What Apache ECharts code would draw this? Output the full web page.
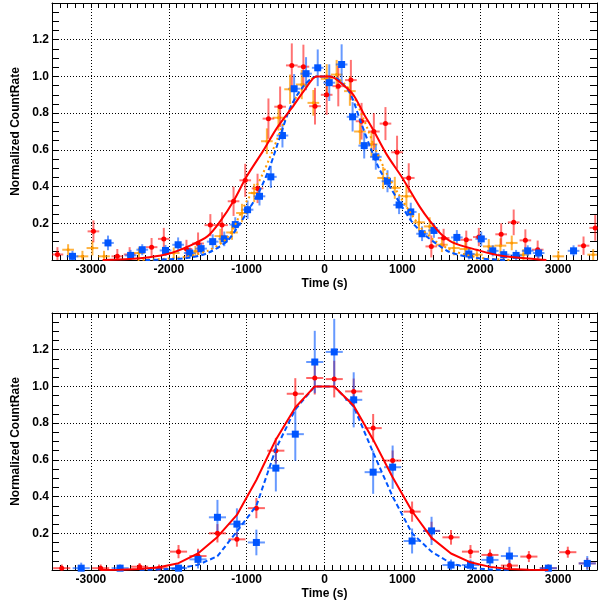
<!DOCTYPE html>
<html>
<head>
<meta charset="utf-8">
<script src="https://cdn.jsdelivr.net/npm/echarts@6/dist/echarts.min.js"></script>
<style>
html,body{margin:0;padding:0;background:#fff;}
#chart{width:602px;height:605px;}
</style>
</head>
<body>
<div id="chart"></div>
<script>
// ---------------- DATA ----------------
// axis ticks
const xTickLabels = [-3000, -2000, -1000, 0, 1000, 2000, 3000];
const yTickLabels = [0.2, 0.4, 0.6, 0.8, 1.0, 1.2];
const xTitle = 'Time (s)';
const yTitle = 'Normalized CountRate';

// bin half-widths (time error)
const topHalfBin = 75;
const bottomHalfBin = 110;

// Top panel points: [time, rate, rateError]
const topRed = [
  [-3430,0.03,0.04],[-2968,0.156,0.06],[-2661,0.02,0.04],[-2503,0.03,0.04],[-2221,0.07,0.05],
  [-2064,0.115,0.06],[-1773,0.06,0.05],[-1624,0.09,0.06],[-1466,0.19,0.06],[-1316,0.19,0.07],
  [-1168,0.32,0.08],[-1018,0.434,0.09],[-860,0.39,0.08],[-720,0.77,0.11],[-570,0.835,0.11],
  [-420,1.06,0.12],[-271,1.053,0.12],[-122,0.838,0.1],[28,0.90,0.11],[177,0.947,0.11],
  [339,0.98,0.11],[476,0.756,0.1],[634,0.70,0.1],[783,0.743,0.09],[932,0.587,0.09],
  [1082,0.447,0.08],[1372,0.074,0.06],[1530,0.12,0.05],[1821,0.11,0.05],[1982,0.125,0.05],
  [2269,0.14,0.06],[2430,0.205,0.07],[2580,0.107,0.06],[2738,0.056,0.05],[3327,0.078,0.05],
  [3477,0.175,0.07]
];
const topOrange = [
  [-3293,0.056,0.03],[-3109,0.02,0.03],[-2981,0.065,0.04],[-2832,0.02,0.03],[-2384,0.038,0.03],
  [-1936,0.038,0.03],[-1658,0.047,0.03],[-1338,0.13,0.04],[-1188,0.15,0.04],[-1060,0.256,0.05],
  [-903,0.365,0.05],[-740,0.647,0.07],[-591,0.775,0.07],[-442,0.93,0.08],[-292,0.956,0.08],
  [-143,0.856,0.07],[28,0.987,0.08],[156,1.01,0.08],[326,0.92,0.08],[455,0.70,0.07],
  [604,0.63,0.07],[753,0.447,0.06],[903,0.393,0.06],[1052,0.347,0.06],[1214,0.205,0.05],
  [1351,0.183,0.05],[1508,0.083,0.04],[1662,0.065,0.04],[1808,0.06,0.04],[1957,0.029,0.03],
  [2110,0.074,0.04],[2260,0.078,0.04],[2405,0.093,0.04],[2554,0.029,0.03],[3003,0.02,0.03],
  [3451,0.029,0.03]
];
const topBlue = [
  [-3237,0.02,0.03],[-2781,0.093,0.04],[-2490,0.025,0.03],[-2341,0.056,0.03],[-2042,0.052,0.03],
  [-1880,0.083,0.04],[-1731,0.038,0.03],[-1585,0.062,0.03],[-1436,0.10,0.04],[-1287,0.115,0.04],
  [-1146,0.193,0.04],[-988,0.274,0.05],[-835,0.347,0.05],[-689,0.453,0.06],[-540,0.678,0.065],
  [-390,0.933,0.08],[-237,1.015,0.09],[-87,1.047,0.1],[61,0.966,0.1],[220,1.065,0.11],
  [361,0.78,0.08],[510,0.623,0.07],[659,0.562,0.07],[809,0.429,0.06],[958,0.30,0.05],
  [1108,0.262,0.05],[1253,0.143,0.04],[1406,0.161,0.04],[1700,0.123,0.04],[1854,0.033,0.03],
  [2013,0.115,0.04],[2161,0.05,0.03],[2302,0.029,0.03],[2461,0.025,0.03],[2610,0.05,0.03],
  [2750,0.038,0.03],[3199,0.05,0.03]
];
// Top panel fitted profiles: [time, rate]
const topRedFit = [
  [-2850,0.0],[-2500,0.005],[-2250,0.015],[-2000,0.034],[-1750,0.074],[-1500,0.13],[-1340,0.21],
  [-1170,0.32],[-1000,0.455],[-780,0.60],[-610,0.72],[-400,0.84],[-250,0.93],[-100,1.0],[70,1.0],
  [250,0.95],[370,0.90],[500,0.80],[625,0.71],[800,0.574],[1000,0.447],[1220,0.292],[1350,0.215],
  [1500,0.14],[1650,0.095],[1950,0.056],[2270,0.023],[2850,0.0]
];
const topBlueFit = [
  [-2300,0.0],[-2000,0.004],[-1750,0.012],[-1500,0.038],[-1250,0.103],[-1124,0.175],[-950,0.29],
  [-826,0.384],[-700,0.51],[-570,0.674],[-440,0.83],[-270,0.947],[-100,1.0],[50,1.0],[156,0.99],
  [326,0.91],[455,0.765],[583,0.62],[711,0.49],[839,0.40],[967,0.31],[1137,0.20],[1308,0.13],
  [1450,0.085],[1600,0.045],[1800,0.02],[2000,0.008],[2330,0.0]
];
const topOrangeFit = [
  [-2400,0.0],[-2000,0.008],[-1750,0.02],[-1500,0.05],[-1250,0.12],[-1000,0.32],[-850,0.42],
  [-700,0.56],[-550,0.72],[-400,0.86],[-250,0.95],[-100,1.0],[50,1.0],[200,0.98],[350,0.91],
  [500,0.77],[650,0.61],[800,0.47],[950,0.36],[1100,0.26],[1250,0.17],[1400,0.11],[1600,0.06],
  [1800,0.03],[2000,0.012],[2400,0.0]
];

// Bottom panel points: [time, rate, rateError]
const bottomRed = [
  [-3375,0.01,0.02],[-2875,0.01,0.02],[-2375,0.018,0.02],[-2125,0.01,0.02],[-1875,0.10,0.036],
  [-1625,0.076,0.04],[-1375,0.20,0.05],[-1125,0.167,0.04],[-875,0.337,0.055],[-625,0.65,0.07],
  [-375,0.96,0.085],[-125,1.046,0.09],[125,1.04,0.1],[375,0.973,0.07],[625,0.773,0.077],
  [875,0.596,0.055],[1125,0.318,0.055],[1375,0.213,0.05],[1625,0.178,0.04],[1875,0.10,0.036],
  [2125,0.082,0.03],[2375,0.024,0.03],[2625,0.073,0.03],[2875,0.01,0.02],[3125,0.097,0.03],
  [3375,0.036,0.03]
];
const bottomBlue = [
  [-3125,0.01,0.03],[-2625,0.01,0.02],[-1875,0.01,0.02],[-1625,0.058,0.05],[-1375,0.287,0.095],
  [-1125,0.25,0.086],[-875,0.15,0.07],[-625,0.555,0.127],[-375,0.74,0.145],[-125,1.133,0.17],
  [125,1.188,0.18],[375,0.927,0.15],[625,0.533,0.118],[875,0.56,0.118],[1125,0.158,0.068],
  [1375,0.213,0.077],[1625,0.027,0.03],[1875,0.027,0.03],[2125,0.055,0.04],[2375,0.076,0.05],
  [2875,0.01,0.02],[3375,0.036,0.04]
];
// Bottom panel fitted profiles
const bottomRedFit = [
  [-2875,0.0005],[-2625,0.002],[-2375,0.005],[-2125,0.015],[-1875,0.037],[-1625,0.09],[-1375,0.18],
  [-1125,0.30],[-875,0.49],[-625,0.71],[-375,0.885],[-125,1.0],[125,1.0],[375,0.895],[625,0.71],
  [875,0.505],[1125,0.32],[1375,0.175],[1625,0.09],[1875,0.042],[2125,0.017],[2375,0.006],
  [2625,0.002],[2875,0.0005]
];
const bottomBlueFit = [
  [-2375,0.001],[-2125,0.003],[-1875,0.009],[-1625,0.028],[-1375,0.075],[-1125,0.21],[-875,0.35],
  [-625,0.66],[-375,0.875],[-125,1.0],[125,1.0],[375,0.89],[625,0.64],[875,0.40],[1125,0.20],
  [1375,0.10],[1625,0.036],[1875,0.01],[2125,0.003],[2375,0.001]
];

// ---------------- STYLE ----------------
const RED = '#ff0000', BLUE = '#0055ff', ORANGE = '#ff9900';
const FONT = 'Liberation Sans';

function withHalf(arr, half) { return arr.map(d => [d[0], d[1], half, d[2]]); }

function errRender(color, width) {
  return function (params, api) {
    const x = api.value(0), y = api.value(1), xe = api.value(2), ye = api.value(3);
    const l = api.coord([x - xe, y]), r = api.coord([x + xe, y]);
    const b = api.coord([x, y - ye]), t = api.coord([x, y + ye]);
    return {
      type: 'group',
      children: [
        {type: 'line', shape: {x1: l[0], y1: l[1], x2: r[0], y2: r[1]}, style: {stroke: color, lineWidth: width}},
        {type: 'line', shape: {x1: b[0], y1: b[1], x2: t[0], y2: t[1]}, style: {stroke: color, lineWidth: width}}
      ]
    };
  };
}

const xMinV = -3500, xMaxV = 3500, yMinV = 0, yMaxV = 1.4;

function xLabelFmt(v) { return xTickLabels.indexOf(Math.round(v)) >= 0 ? String(Math.round(v)) : ''; }
function yLabelFmt(v) {
  const r = Math.round(v * 10) / 10;
  return yTickLabels.some(t => Math.abs(t - v) < 1e-6) ? r.toFixed(1) : '';
}

const grids = [
  {left: 52, top: 3, width: 545, height: 257},
  {left: 52, top: 313, width: 545, height: 257}
];

const xAxes = [], yAxes = [];
grids.forEach((g, gi) => {
  xAxes.push({
    gridIndex: gi, type: 'value', min: xMinV, max: xMaxV, interval: 500, position: 'bottom',
    name: xTitle, nameLocation: 'middle', nameGap: 18,
    nameTextStyle: {fontFamily: FONT, fontWeight: 'bold', fontSize: 12, color: '#000'},
    axisLine: {show: true, onZero: false, lineStyle: {color: '#000', width: 1}},
    axisTick: {show: true, inside: true, length: 5, lineStyle: {color: '#000'}},
    minorTick: {show: true, splitNumber: 5, length: 5, lineStyle: {color: '#000'}},
    axisLabel: {formatter: xLabelFmt, margin: 4, fontFamily: FONT, fontWeight: 'bold', fontSize: 12, color: '#000', showMinLabel: true, showMaxLabel: true, hideOverlap: false},
    splitLine: {show: true, lineStyle: {color: ['rgba(0,0,0,0)', '#000'], type: [1, 2], width: 1}}
  });
  xAxes.push({
    gridIndex: gi, type: 'value', min: xMinV, max: xMaxV, interval: 500, position: 'top',
    axisLine: {show: true, onZero: false, lineStyle: {color: '#000', width: 1}},
    axisTick: {show: true, inside: true, length: 5, lineStyle: {color: '#000'}},
    minorTick: {show: true, splitNumber: 5, length: 5, lineStyle: {color: '#000'}},
    axisLabel: {show: false}, splitLine: {show: false}
  });
  yAxes.push({
    gridIndex: gi, type: 'value', min: yMinV, max: yMaxV, interval: 0.2, position: 'left',
    name: yTitle, nameLocation: 'middle', nameGap: 25, nameRotate: 90,
    nameTextStyle: {fontFamily: FONT, fontWeight: 'bold', fontSize: 12, color: '#000'},
    axisLine: {show: true, onZero: false, lineStyle: {color: '#000', width: 1}},
    axisTick: {show: true, inside: true, length: 7, lineStyle: {color: '#000'}},
    minorTick: {show: true, splitNumber: 4, length: 7, lineStyle: {color: '#000'}},
    axisLabel: {formatter: yLabelFmt, margin: 3, fontFamily: FONT, fontWeight: 'bold', fontSize: 12, color: '#000', showMinLabel: true, showMaxLabel: true},
    splitLine: {show: true, lineStyle: {color: '#000', type: [1, 2], width: 1}}
  });
  yAxes.push({
    gridIndex: gi, type: 'value', min: yMinV, max: yMaxV, interval: 0.2, position: 'right',
    axisLine: {show: true, onZero: false, lineStyle: {color: '#000', width: 1}},
    axisTick: {show: true, inside: true, length: 7, lineStyle: {color: '#000'}},
    minorTick: {show: true, splitNumber: 4, length: 7, lineStyle: {color: '#000'}},
    axisLabel: {show: false}, splitLine: {show: false}
  });
});

function errSeries(gi, data, half, color, z) {
  return {
    type: 'custom', xAxisIndex: gi * 2, yAxisIndex: gi * 2, clip: true, z: z,
    renderItem: errRender(color, 2), encode: {x: 0, y: 1}, data: withHalf(data, half), silent: true
  };
}
function markSeries(gi, data, symbol, size, color, z) {
  return {
    type: 'scatter', xAxisIndex: gi * 2, yAxisIndex: gi * 2, clip: true, z: z,
    symbol: symbol, symbolSize: size, itemStyle: {color: color, opacity: 1},
    data: data.map(d => [d[0], d[1]]), silent: true
  };
}
function fitSeries(gi, data, color, type, smooth, z) {
  return {
    type: 'line', xAxisIndex: gi * 2, yAxisIndex: gi * 2, clip: true, z: z,
    showSymbol: false, symbol: 'none', smooth: smooth,
    lineStyle: {color: color, width: 2, type: type}, data: data, silent: true
  };
}

const series = [
  errSeries(0, topOrange, topHalfBin, 'rgba(255,153,0,0.75)', 2),
  errSeries(0, topRed, topHalfBin, 'rgba(255,0,0,0.55)', 2),
  errSeries(0, topBlue, topHalfBin, 'rgba(0,85,255,0.6)', 2),
  markSeries(0, topOrange, 'circle', 3, ORANGE, 3),
  markSeries(0, topRed, 'circle', 5, RED, 3),
  markSeries(0, topBlue, 'rect', 7, BLUE, 3),
  fitSeries(0, topOrangeFit, ORANGE, [2, 3], 0.3, 4),
  fitSeries(0, topBlueFit, BLUE, [5, 3], 0.3, 4),
  fitSeries(0, topRedFit, RED, 'solid', 0.3, 4),

  errSeries(1, bottomRed, bottomHalfBin, 'rgba(255,0,0,0.6)', 2),
  errSeries(1, bottomBlue, bottomHalfBin, 'rgba(0,85,255,0.6)', 2),
  markSeries(1, bottomRed, 'circle', 5, RED, 3),
  markSeries(1, bottomBlue, 'rect', 7, BLUE, 3),
  fitSeries(1, bottomBlueFit, BLUE, [5, 3], false, 4),
  fitSeries(1, bottomRedFit, RED, 'solid', false, 4)
];

const chart = echarts.init(document.getElementById('chart'), null, {renderer: 'canvas'});
chart.setOption({
  animation: false,
  backgroundColor: '#fff',
  grid: grids.map(g => Object.assign({containLabel: false, show: false}, g)),
  xAxis: xAxes,
  yAxis: yAxes,
  series: series
});
</script>
</body>
</html>
